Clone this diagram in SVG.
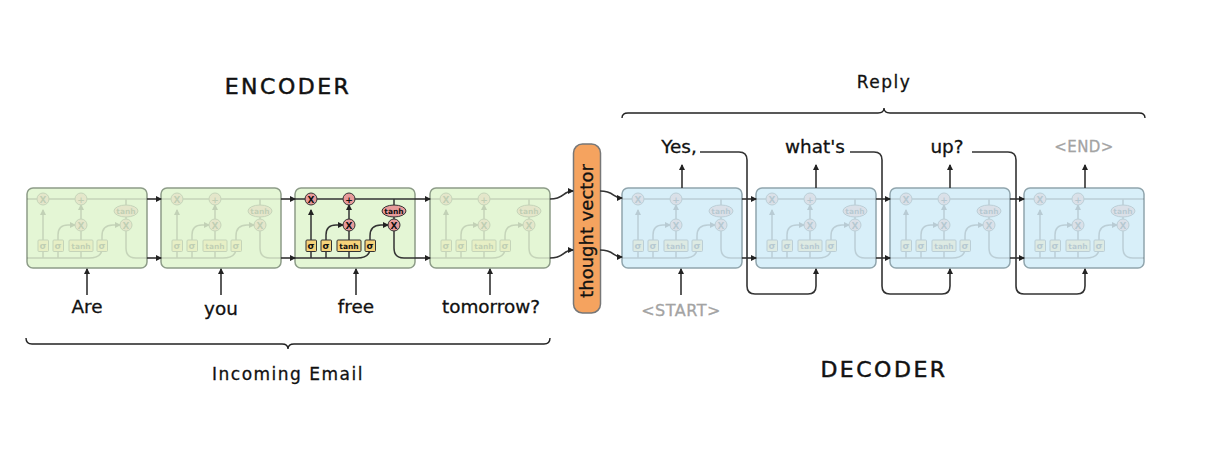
<svg xmlns="http://www.w3.org/2000/svg" width="1208" height="474" viewBox="0 0 1208 474">
<style>
text{font-family:"DejaVu Sans","Liberation Sans",sans-serif;text-anchor:middle}
.t{font-size:18.4px;fill:#111;stroke:#111;stroke-width:.3px}
.g{fill:#a3a3a3;stroke:#a3a3a3;stroke-width:.3px}
.h{font-size:22px;fill:#111;letter-spacing:2.5px;stroke:#111;stroke-width:.5px}
.b{font-size:17px;fill:#111;letter-spacing:1.5px;stroke:#111;stroke-width:.3px}
.enc{fill:#e4f6d5;stroke:#8d9c88;stroke-width:1.5}
.dec{fill:#d8eff9;stroke:#90a5ad;stroke-width:1.5}
.w{fill:none;stroke:#333;stroke-width:1.5}
.c{fill:none;stroke:#333;stroke-width:1.6}
.k{fill:none;stroke:#222;stroke-width:1.4}
.fade{opacity:.17}
.op{fill:#e79a9a;stroke:#333;stroke-width:1}
.nn{fill:#f6d27a;stroke:#333;stroke-width:1}
.lb{font-size:7.500px;font-weight:bold;fill:#111}
.sl{font-size:9px;font-weight:bold;fill:#111}
</style>
<defs>
<marker id="a" markerWidth="7" markerHeight="7" refX="5" refY="3" orient="auto" markerUnits="userSpaceOnUse"><path d="M0 0L6 3L0 6Z" fill="#222"/></marker>
<g id="cell">
<path class="w" d="M0 11H120"/>
<path class="w" d="M0 70H62Q75 70 75 60V48Q75 37 86 37H93" marker-end="url(#a)"/>
<path class="w" d="M99 43V60Q99 70 109 70H120"/>
<path class="w" d="M99 11V31"/>
<path class="w" d="M16 70V22" marker-end="url(#a)"/>
<path class="w" d="M31 70V47Q31 37 41 37H48" marker-end="url(#a)"/>
<path class="w" d="M54 70V43"/>
<path class="w" d="M54 31V17" marker-end="url(#a)"/>
<circle class="op" cx="16" cy="11" r="6"/><circle class="op" cx="54" cy="11" r="6"/><circle class="op" cx="54" cy="37" r="6"/><circle class="op" cx="99" cy="37" r="6"/>
<ellipse class="op" cx="99" cy="23" rx="12" ry="6"/>
<rect class="nn" x="11" y="52" width="10.500" height="11.500" rx="1"/><rect class="nn" x="26" y="52" width="10.500" height="11.500" rx="1"/><rect class="nn" x="42" y="52" width="24" height="11.500" rx="1"/><rect class="nn" x="70" y="52" width="10.500" height="11.500" rx="1"/>
<text class="sl" x="16" y="14.500">X</text><text class="sl" x="54" y="14.500">+</text><text class="sl" x="54" y="40.500">X</text><text class="sl" x="99" y="40.500">X</text><text class="lb" x="99" y="25.500">tanh</text>
<text class="sl" x="16" y="61">σ</text><text class="sl" x="31" y="61">σ</text><text class="lb" x="54" y="60.500">tanh</text><text class="sl" x="75" y="61">σ</text>
</g>
</defs>
<rect width="1208" height="474" fill="#fff"/>
<g id="enc1"><rect class="enc" x="27" y="188" width="120" height="80" rx="6"/><use href="#cell" class="fade" x="27" y="188"/></g>
<g id="enc2"><rect class="enc" x="161" y="188" width="120" height="80" rx="6"/><use href="#cell" class="fade" x="161" y="188"/></g>
<g id="enc3"><rect class="enc" x="295" y="188" width="120" height="80" rx="6"/><use href="#cell" x="295" y="188"/></g>
<g id="enc4"><rect class="enc" x="430" y="188" width="120" height="80" rx="6"/><use href="#cell" class="fade" x="430" y="188"/></g>
<g id="thought"><rect x="573.500" y="144" width="27" height="169" rx="9" fill="#f5a35f" stroke="#777" stroke-width="1.500"/><text transform="translate(593 231) rotate(-90)" font-size="18" fill="#111" stroke="#111" stroke-width=".3">thought vector</text></g>
<g id="dec1"><rect class="dec" x="622" y="188" width="120" height="80" rx="6"/><use href="#cell" class="fade" x="622" y="188"/></g>
<g id="dec2"><rect class="dec" x="756" y="188" width="120" height="80" rx="6"/><use href="#cell" class="fade" x="756" y="188"/></g>
<g id="dec3"><rect class="dec" x="890" y="188" width="120" height="80" rx="6"/><use href="#cell" class="fade" x="890" y="188"/></g>
<g id="dec4"><rect class="dec" x="1024" y="188" width="120" height="80" rx="6"/><use href="#cell" class="fade" x="1024" y="188"/></g>
<g id="connectors" marker-end="url(#a)">
<path class="c" d="M147 199H161"/><path class="c" d="M147 258H161"/>
<path class="c" d="M281 199H295"/><path class="c" d="M281 258H295"/>
<path class="c" d="M415 199H430"/><path class="c" d="M415 258H430"/>
<path class="c" d="M742 199H756"/><path class="c" d="M742 258H756"/>
<path class="c" d="M876 199H890"/><path class="c" d="M876 258H890"/>
<path class="c" d="M1010 199H1024"/><path class="c" d="M1010 258H1024"/>
<path class="c" d="M550 199C565 199 562 191 573 191"/>
<path class="c" d="M550 258C565 258 562 250 573 250"/>
<path class="c" d="M600 191C615 191 612 198 622 198"/>
<path class="c" d="M600 250C615 250 612 257 622 257"/>
<path class="c" d="M87 295V269"/><path class="c" d="M221 295V269"/><path class="c" d="M356 295V269"/><path class="c" d="M490 295V269"/><path class="c" d="M681 295V269"/>
<path class="c" d="M682 188V165"/><path class="c" d="M816 188V165"/><path class="c" d="M950 188V165"/><path class="c" d="M1085 188V165"/>
<path class="c" d="M700 152H739Q747 152 747 160V286Q747 294 755 294H808Q816 294 816 286V269"/>
<path class="c" d="M850 152H874Q882 152 882 160V286Q882 294 890 294H942Q950 294 950 286V269"/>
<path class="c" d="M972 152H1008Q1016 152 1016 160V286Q1016 294 1024 294H1077Q1085 294 1085 286V269"/>
</g>
<g id="brackets">
<path class="k" d="M26 338Q26 344 32 344H282Q288 344 288 349Q288 344 294 344H544Q550 344 550 338"/>
<path class="k" d="M622 118Q622 113 628 113H878Q884 113 884 108Q884 113 890 113H1139Q1145 113 1145 118"/>
</g>
<g id="labels">
<text class="h" x="288" y="94">ENCODER</text>
<text class="h" x="884" y="377">DECODER</text>
<text class="b" x="884" y="88">Reply</text>
<text class="b" x="288" y="380">Incoming Email</text>
<text class="t" x="87" y="313">Are</text>
<text class="t" x="221" y="315">you</text>
<text class="t" x="356" y="313">free</text>
<text class="t" x="491" y="313">tomorrow?</text>
<text class="t" x="679" y="153">Yes,</text>
<text class="t" x="815" y="153">what's</text>
<text class="t" x="947" y="153">up?</text>
<text class="g" x="1084" y="152" font-size="15" letter-spacing=".4">&lt;END&gt;</text>
<text class="g" x="681" y="316" font-size="16" letter-spacing=".5">&lt;START&gt;</text>
</g>
</svg>
